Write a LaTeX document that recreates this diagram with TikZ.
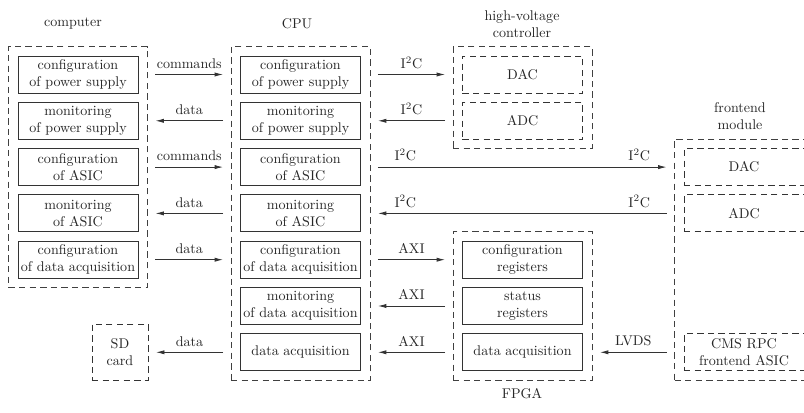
\documentclass[tikz,border=0pt]{standalone}
\usepackage{amsmath}
\usepackage{tikz}
\usetikzlibrary{arrows.meta, positioning, calc, fit}

\tikzset{
  blk/.style={draw=black!80, line width=0.6pt, minimum width=3cm, minimum height=0.925cm,
    inner sep=1pt, align=center, text=black!85},
  dblk/.style={blk, dash pattern=on 4.5pt off 3pt},
  grp/.style={draw=black!75, line width=0.6pt, dash pattern=on 4.5pt off 3pt, inner sep=0.225cm},
  link/.style={-{Latex[length=6pt,width=3pt]}, draw=black!80, line width=0.6pt,
    shorten <=0.19cm, shorten >=0.19cm},
  lbl/.style={above=2pt, text=black!85, inner sep=2pt},
  ttl/.style={align=center, text=black!85}
}

\begin{document}
\begin{tikzpicture}[x=0.025cm, y=-0.025cm]
\useasboundingbox[fill=white] (0,0) rectangle (804,413);
\clip (0,0) rectangle (804,413);

% computer
\node[blk] (c1) at (78,74.5) {configuration\\of power supply};
\node[blk] (c2) at (78,120.8) {monitoring\\of power supply};
\node[blk] (c3) at (78,167.1) {configuration\\of ASIC};
\node[blk] (c4) at (78,213.4) {monitoring\\of ASIC};
\node[blk] (c5) at (78,259.7) {configuration\\of data acquisition};
\node[grp, fit=(c1)(c5)] (comp) {};
\node[ttl] (comptitle) at (73,24) {computer};

% SD card
\node[blk, dash pattern=on 4.5pt off 3pt, minimum width=1.4cm, minimum height=1.4cm] (sd) at (120,352) {SD\\card};

% CPU
\node[blk] (p1) at (300.5,74.5) {configuration\\of power supply};
\node[blk] (p2) at (300.5,120.8) {monitoring\\of power supply};
\node[blk] (p3) at (300.5,167.1) {configuration\\of ASIC};
\node[blk] (p4) at (300.5,213.4) {monitoring\\of ASIC};
\node[blk] (p5) at (300.5,259.7) {configuration\\of data acquisition};
\node[blk] (p6) at (300.5,306) {monitoring\\of data acquisition};
\node[blk] (p7) at (300.5,352.3) {data acquisition};
\node[grp, fit=(p1)(p7)] (cpu) {};
\node[ttl] (cputitle) at (297,24) {CPU};

% high-voltage controller
\node[dblk] (hvdac) at (522.5,74.5) {DAC};
\node[dblk] (hvadc) at (522.5,120.8) {ADC};
\node[grp, fit=(hvdac)(hvadc)] (hv) {};
\node[ttl] (hvtitle) at (522,24) {high-voltage\\controller};

% FPGA
\node[blk] (f1) at (522.5,259.7) {configuration\\registers};
\node[blk] (f2) at (522.5,306) {status\\registers};
\node[blk] (f3) at (522.5,352.3) {data acquisition};
\node[grp, fit=(f1)(f3)] (fpga) {};
\node[ttl] (fpgatitle) at (522,394) {FPGA};

% frontend module
\node[dblk, minimum width=4cm] (fedac) at (764,167.1) {};
\node[dblk, minimum width=4cm] (feadc) at (764,213.4) {};
\node[dblk, minimum width=4cm] (feasic) at (764,352.3) {};
\node[grp, fit=(fedac)(feasic)] (fe) {};
\node[ttl] (fedactxt) at (744,167.1) {DAC};
\node[ttl] (feadctxt) at (744,213.4) {ADC};
\node[ttl] (feasictxt) at (744,352.3) {CMS RPC\\frontend ASIC};
\node[ttl] (fetitle) at (740,116) {frontend\\module};

% computer <-> CPU
\draw[link] (comp.east |- c1) -- node[lbl] {commands} (cpu.west |- c1);
\draw[link] (cpu.west |- c2) -- node[lbl] {data} (comp.east |- c2);
\draw[link] (comp.east |- c3) -- node[lbl] {commands} (cpu.west |- c3);
\draw[link] (cpu.west |- c4) -- node[lbl] {data} (comp.east |- c4);
\draw[link] (comp.east |- c5) -- node[lbl] {data} (cpu.west |- c5);
\draw[link] (cpu.west |- p7) -- node[lbl] {data} (sd.east |- p7);

% CPU <-> high-voltage controller
\draw[link] (cpu.east |- hvdac) -- node[lbl] {I$^2$C} (hv.west |- hvdac);
\draw[link] (hv.west |- hvadc) -- node[lbl] {I$^2$C} (cpu.east |- hvadc);

% CPU <-> frontend module
\draw[link] (cpu.east |- fedac) -- node[lbl, pos=.115] {I$^2$C} node[lbl, pos=.885] {I$^2$C} (fe.west |- fedac);
\draw[link] (fe.west |- feadc) -- node[lbl, pos=.115] {I$^2$C} node[lbl, pos=.885] {I$^2$C} (cpu.east |- feadc);

% CPU <-> FPGA
\draw[link] (cpu.east |- f1) -- node[lbl] {AXI} (fpga.west |- f1);
\draw[link] (fpga.west |- f2) -- node[lbl] {AXI} (cpu.east |- f2);
\draw[link] (fpga.west |- f3) -- node[lbl] {AXI} (cpu.east |- f3);
\draw[link] (fe.west |- feasic) -- node[lbl] {LVDS} (fpga.east |- feasic);
\end{tikzpicture}
\end{document}
